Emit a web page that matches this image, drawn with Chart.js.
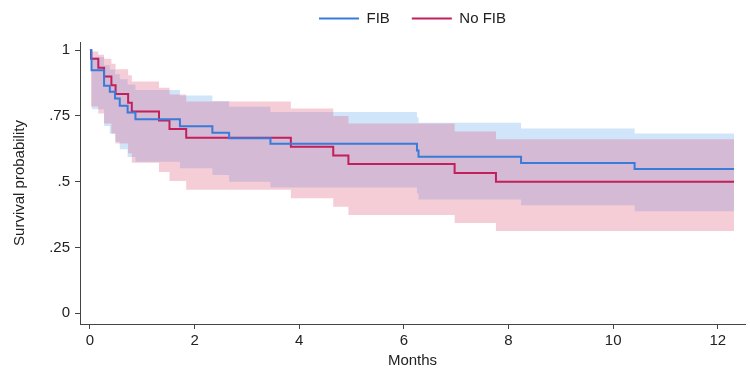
<!DOCTYPE html>
<html>
<head>
<meta charset="utf-8">
<script src="https://cdn.jsdelivr.net/npm/chart.js@4.4.0/dist/chart.umd.min.js"></script>
<style>
  html, body { margin: 0; padding: 0; background: #fff; }
</style>
</head>
<body>
<canvas id="myChart" width="750" height="372"></canvas>
<script>
// survival curves (months -> probability)
var fibTime = [0, 0.03, 0.27, 0.38, 0.48, 0.57, 0.72, 0.87, 1.72, 2.34, 2.66, 3.45, 6.25, 6.28, 8.24, 10.41, 12.31];
var fibSurv = [1, 0.924, 0.865, 0.842, 0.816, 0.789, 0.763, 0.737, 0.711, 0.686, 0.665, 0.644, 0.619, 0.595, 0.571, 0.548, 0.548];
var noTime = [0, 0.02, 0.16, 0.27, 0.41, 0.49, 0.73, 0.80, 1.32, 1.52, 1.84, 3.84, 4.65, 4.94, 6.97, 7.76, 12.31];
var noSurv = [1, 0.967, 0.933, 0.9, 0.867, 0.833, 0.8, 0.767, 0.733, 0.7, 0.667, 0.633, 0.6, 0.567, 0.533, 0.5, 0.5];

// confidence bands (start at first event)
var fibBandTime = [0.03, 0.27, 0.38, 0.48, 0.57, 0.72, 0.87, 1.72, 2.34, 2.66, 3.45, 6.25, 6.28, 8.24, 10.41, 12.31];
var fibUpper = [0.974, 0.943, 0.926, 0.908, 0.889, 0.869, 0.849, 0.828, 0.807, 0.785, 0.765, 0.745, 0.724, 0.702, 0.683, 0.683];
var fibLower = [0.775, 0.712, 0.682, 0.652, 0.623, 0.594, 0.576, 0.551, 0.525, 0.500, 0.478, 0.455, 0.432, 0.410, 0.388, 0.388];
var noBandTime = [0.02, 0.16, 0.27, 0.41, 0.49, 0.73, 0.80, 1.32, 1.52, 1.84, 3.84, 4.65, 4.94, 6.97, 7.76, 12.31];
var noUpper = [0.995, 0.983, 0.967, 0.948, 0.927, 0.905, 0.881, 0.857, 0.831, 0.805, 0.778, 0.750, 0.721, 0.691, 0.661, 0.661];
var noLower = [0.786, 0.759, 0.721, 0.683, 0.645, 0.608, 0.572, 0.537, 0.503, 0.469, 0.437, 0.405, 0.373, 0.343, 0.313, 0.313];

// axis ticks
var xTicks = [0, 2, 4, 6, 8, 10, 12];
var yTicks = [0, 0.25, 0.5, 0.75, 1];
var yTickLabels = ['0', '.25', '.5', '.75', '1'];

var blueLine = '#3a7bd9';
var redLine = '#c21f5b';
var blueBand = 'rgba(98, 165, 240, 0.3)';
var redBand = 'rgba(222, 88, 122, 0.3)';
var fontFamily = "'Liberation Sans', Arial, sans-serif";

function toPoints(times, values) {
  return times.map(function (t, i) { return { x: t, y: values[i] }; });
}

function curve(label, times, values, color) {
  return {
    label: label,
    data: toPoints(times, values),
    borderColor: color,
    backgroundColor: color,
    borderWidth: 2,
    pointRadius: 0,
    pointStyle: 'line',
    stepped: true,
    fill: false
  };
}

function band(times, values, fillColor, fillTo) {
  return {
    label: '',
    data: toPoints(times, values),
    borderWidth: 0,
    borderColor: 'rgba(0,0,0,0)',
    backgroundColor: fillColor,
    pointRadius: 0,
    stepped: true,
    fill: fillTo
  };
}

// legend: fixed height, centred over the plot area like Stata
var legendFix = {
  id: 'legendFix',
  afterInit: function (chart) {
    var lg = chart.legend;
    var fit = lg.fit;
    lg.fit = function () {
      fit.call(this);
      this.height = 42;
    };
  },
  afterLayout: function (chart) {
    chart.legend.left = chart.chartArea.left;
    chart.legend.right = chart.chartArea.right;
    chart.legend.top = -11;
  }
};

var ctx = document.getElementById('myChart').getContext('2d');
var myChart = new Chart(ctx, {
  type: 'line',
  data: {
    datasets: [
      curve('FIB', fibTime, fibSurv, blueLine),
      curve('No FIB', noTime, noSurv, redLine),
      band(noBandTime, noUpper, redBand, '+1'),
      band(noBandTime, noLower, redBand, false),
      band(fibBandTime, fibUpper, blueBand, '+1'),
      band(fibBandTime, fibLower, blueBand, false)
    ]
  },
  options: {
    responsive: false,
    animation: false,
    layout: { padding: { top: 0, right: 5, left: 0, bottom: 0 } },
    plugins: {
      tooltip: { enabled: false },
      legend: {
        position: 'top',
        labels: {
          usePointStyle: true,
          pointStyleWidth: 40,
          color: '#222',
          padding: 22,
          font: { family: fontFamily, size: 15 },
          filter: function (item) { return item.text !== ''; }
        }
      }
    },
    scales: {
      x: {
        type: 'linear',
        min: -0.19,
        max: 12.52,
        afterBuildTicks: function (scale) {
          scale.ticks = xTicks.map(function (v) { return { value: v }; });
        },
        afterFit: function (scale) { scale.height = 48; },
        grid: { drawOnChartArea: false, drawTicks: true, tickLength: 5, color: '#444' },
        border: { display: true, color: '#444', width: 1 },
        ticks: { color: '#222', padding: 3, font: { family: fontFamily, size: 15 } },
        title: { display: true, text: 'Months', color: '#222', padding: { top: 0, bottom: 2 }, font: { family: fontFamily, size: 15 } }
      },
      y: {
        type: 'linear',
        min: -0.041,
        max: 1.031,
        afterBuildTicks: function (scale) {
          scale.ticks = yTicks.map(function (v) { return { value: v }; });
        },
        afterFit: function (scale) { scale.width = 80; },
        grid: { drawOnChartArea: false, drawTicks: true, tickLength: 5, color: '#444' },
        border: { display: true, color: '#444', width: 1 },
        ticks: {
          color: '#222',
          padding: 5,
          font: { family: fontFamily, size: 15 },
          callback: function (value) { return yTickLabels[yTicks.indexOf(value)]; }
        },
        title: { display: true, text: 'Survival probability', color: '#222', padding: { top: 11, bottom: 0 }, font: { family: fontFamily, size: 15 } }
      }
    }
  },
  plugins: [legendFix]
});
</script>
</body>
</html>
